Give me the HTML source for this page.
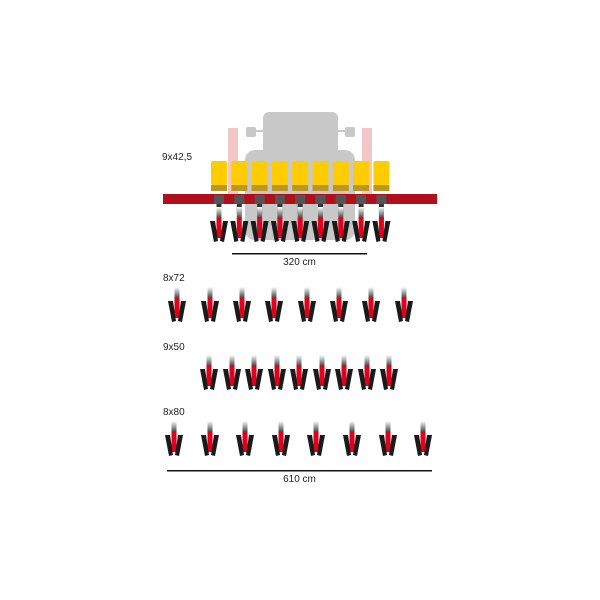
<!DOCTYPE html>
<html><head><style>
body{margin:0;background:#fff;}
svg{display:block;}
text{font-family:"Liberation Sans",sans-serif;font-size:10px;fill:#222;}
</style></head><body>
<svg width="600" height="600" viewBox="0 0 600 600">
<defs>
<linearGradient id="st" x1="0" y1="0" x2="0" y2="1">
<stop offset="0" stop-color="#fff"/><stop offset="1" stop-color="#333"/>
</linearGradient>
<symbol id="u" overflow="visible">
<rect x="-2.5" y="0" width="5" height="12" fill="url(#st)"/>
<rect x="-2.5" y="11" width="5" height="20" fill="#e2001a"/>
<polygon points="-9,14 -4,14 -1,34 -5,35" fill="#1a1a1a"/>
<polygon points="4,14 9,14 5,35 1,34" fill="#1a1a1a"/>
</symbol>
</defs>
<g fill="#c8c8c8">
<rect x="263" y="112" width="75" height="45" rx="6"/>
<rect x="245" y="150" width="110" height="90" rx="10"/>
<rect x="246" y="127" width="10" height="10" rx="2"/>
<rect x="345" y="127" width="10" height="10" rx="2"/>
<rect x="254" y="130" width="10" height="2"/>
<rect x="337" y="130" width="10" height="2"/>
</g>
<rect x="228" y="128" width="10" height="66" fill="#f3c6c6"/>
<rect x="362" y="128" width="10" height="66" fill="#f3c6c6"/>
<text x="162" y="160">9x42,5</text>
<g>
<rect x="211" y="161" width="16" height="24" rx="2" fill="#ffcc00"/><rect x="211" y="185" width="16" height="6" fill="#b8962a"/>
<rect x="231.3" y="161" width="16" height="24" rx="2" fill="#ffcc00"/><rect x="231.3" y="185" width="16" height="6" fill="#b8962a"/>
<rect x="251.6" y="161" width="16" height="24" rx="2" fill="#ffcc00"/><rect x="251.6" y="185" width="16" height="6" fill="#b8962a"/>
<rect x="271.9" y="161" width="16" height="24" rx="2" fill="#ffcc00"/><rect x="271.9" y="185" width="16" height="6" fill="#b8962a"/>
<rect x="292.2" y="161" width="16" height="24" rx="2" fill="#ffcc00"/><rect x="292.2" y="185" width="16" height="6" fill="#b8962a"/>
<rect x="312.5" y="161" width="16" height="24" rx="2" fill="#ffcc00"/><rect x="312.5" y="185" width="16" height="6" fill="#b8962a"/>
<rect x="332.8" y="161" width="16" height="24" rx="2" fill="#ffcc00"/><rect x="332.8" y="185" width="16" height="6" fill="#b8962a"/>
<rect x="353.1" y="161" width="16" height="24" rx="2" fill="#ffcc00"/><rect x="353.1" y="185" width="16" height="6" fill="#b8962a"/>
<rect x="373.4" y="161" width="16" height="24" rx="2" fill="#ffcc00"/><rect x="373.4" y="185" width="16" height="6" fill="#b8962a"/>
</g>
<rect x="163" y="194" width="274" height="10" fill="#b0101c"/>
<g>
<g transform="translate(219,0)"><rect x="-5" y="195" width="10" height="9" fill="#555"/><rect x="-2.5" y="204" width="5" height="10" fill="#333"/><use href="#u" x="0" y="207"/></g>
<g transform="translate(239.3,0)"><rect x="-5" y="195" width="10" height="9" fill="#555"/><rect x="-2.5" y="204" width="5" height="10" fill="#333"/><use href="#u" x="0" y="207"/></g>
<g transform="translate(259.6,0)"><rect x="-5" y="195" width="10" height="9" fill="#555"/><rect x="-2.5" y="204" width="5" height="10" fill="#333"/><use href="#u" x="0" y="207"/></g>
<g transform="translate(279.9,0)"><rect x="-5" y="195" width="10" height="9" fill="#555"/><rect x="-2.5" y="204" width="5" height="10" fill="#333"/><use href="#u" x="0" y="207"/></g>
<g transform="translate(300.2,0)"><rect x="-5" y="195" width="10" height="9" fill="#555"/><rect x="-2.5" y="204" width="5" height="10" fill="#333"/><use href="#u" x="0" y="207"/></g>
<g transform="translate(320.5,0)"><rect x="-5" y="195" width="10" height="9" fill="#555"/><rect x="-2.5" y="204" width="5" height="10" fill="#333"/><use href="#u" x="0" y="207"/></g>
<g transform="translate(340.8,0)"><rect x="-5" y="195" width="10" height="9" fill="#555"/><rect x="-2.5" y="204" width="5" height="10" fill="#333"/><use href="#u" x="0" y="207"/></g>
<g transform="translate(361.1,0)"><rect x="-5" y="195" width="10" height="9" fill="#555"/><rect x="-2.5" y="204" width="5" height="10" fill="#333"/><use href="#u" x="0" y="207"/></g>
<g transform="translate(381.4,0)"><rect x="-5" y="195" width="10" height="9" fill="#555"/><rect x="-2.5" y="204" width="5" height="10" fill="#333"/><use href="#u" x="0" y="207"/></g>
</g>
<rect x="232" y="253" width="135" height="1.5" fill="#111"/>
<text x="299.5" y="265" text-anchor="middle">320 cm</text>

<text x="163" y="281">8x72</text>
<use href="#u" x="177" y="287"/><use href="#u" x="210" y="287"/><use href="#u" x="242" y="287"/><use href="#u" x="274" y="287"/>
<use href="#u" x="307" y="287"/><use href="#u" x="339" y="287"/><use href="#u" x="371" y="287"/><use href="#u" x="404" y="287"/>

<text x="163" y="350">9x50</text>
<use href="#u" x="209" y="355"/><use href="#u" x="232" y="355"/><use href="#u" x="254" y="355"/><use href="#u" x="277" y="355"/><use href="#u" x="299" y="355"/>
<use href="#u" x="322" y="355"/><use href="#u" x="344" y="355"/><use href="#u" x="367" y="355"/><use href="#u" x="389" y="355"/>

<text x="163" y="415">8x80</text>
<use href="#u" x="174" y="421"/><use href="#u" x="210" y="421"/><use href="#u" x="245" y="421"/><use href="#u" x="281" y="421"/>
<use href="#u" x="316" y="421"/><use href="#u" x="352" y="421"/><use href="#u" x="388" y="421"/><use href="#u" x="423" y="421"/>
<rect x="167" y="470" width="265" height="1.5" fill="#111"/>
<text x="299.5" y="482" text-anchor="middle">610 cm</text>
</svg>
</body></html>
